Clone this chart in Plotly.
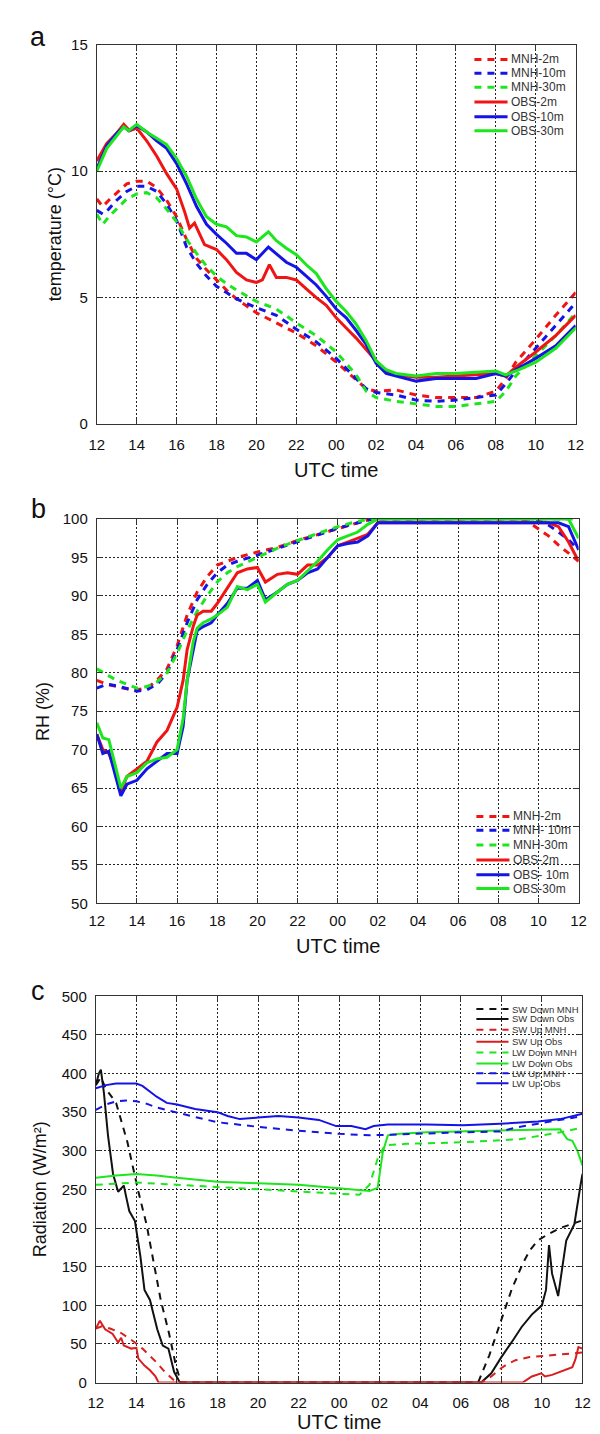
import plotly.graph_objects as go

W, H = 600, 1434

# ---------------- shared x axis (hours after 12 UTC) ----------------
X_TICK_VALS = [0, 2, 4, 6, 8, 10, 12, 14, 16, 18, 20, 22, 24]
X_TICK_LABELS = ["12", "14", "16", "18", "20", "22", "00", "02", "04", "06", "08", "10", "12"]

# ---------------- panel a : temperature (deg C) ----------------
TA_OBS2_X = [0, 0.5, 1, 1.35, 1.65, 2, 2.5, 3, 3.5, 4, 4.4, 4.65, 4.9, 5.4, 6, 6.5, 7, 7.5, 8, 8.3,
             8.65, 9, 9.5, 10, 10.5, 11, 11.5, 12, 12.5, 13, 13.5, 14, 14.5, 15, 16, 17, 18, 19, 20, 20.5,
             21, 22, 23, 24]
TA_OBS2 = [10.4, 11.1, 11.5, 11.85, 11.6, 11.7, 11.2, 10.6, 9.9, 9.3, 8.4, 7.75, 7.95, 7.1, 6.9, 6.5, 6.0, 5.7, 5.6, 5.7,
           6.3, 5.8, 5.8, 5.7, 5.35, 5.0, 4.7, 4.2, 3.8, 3.4, 2.95, 2.5, 2.1, 1.95, 1.85, 1.85, 1.9, 1.95, 2.0, 1.9,
           2.25, 2.85, 3.5, 4.3]
TA_OBS_X = [0, 0.5, 1, 1.35, 1.6, 2, 2.5, 3, 3.5, 4, 4.5, 5, 5.5, 6, 6.5, 7, 7.5, 8, 8.6, 9,
            9.5, 10, 10.5, 11, 11.5, 12, 12.5, 13, 13.5, 14, 14.5, 15, 16, 17, 18, 19, 20, 20.5, 21, 22,
            23, 24]
TA_OBS10 = [10.1, 11.0, 11.5, 11.75, 11.6, 11.8, 11.55, 11.2, 10.9, 10.3, 9.5, 8.6, 7.9, 7.5, 7.15, 6.75, 6.75, 6.5, 7.0, 6.75,
            6.4, 6.2, 5.85, 5.5, 5.05, 4.55, 4.2, 3.7, 3.15, 2.4, 2.0, 1.9, 1.7, 1.8, 1.8, 1.8, 2.0, 1.9, 2.15, 2.6,
            3.1, 3.9]
TA_OBS30 = [10.0, 10.9, 11.4, 11.75, 11.6, 11.85, 11.55, 11.3, 11.05, 10.5, 9.8, 8.9, 8.2, 7.9, 7.8, 7.45, 7.4, 7.2, 7.6, 7.25,
            6.95, 6.7, 6.3, 5.95, 5.35, 4.85, 4.45, 3.95, 3.3, 2.5, 2.15, 2.0, 1.9, 2.0, 2.0, 2.05, 2.1, 1.95, 2.1, 2.45,
            3.0, 3.8]
TA_MNH_X = [0, 0.3, 0.6, 1, 1.5, 2, 2.5, 3, 3.5, 4, 4.5, 5, 5.5, 6, 6.5, 7, 8, 9, 10, 11,
            12, 13, 13.5, 14, 15, 16, 17, 18, 19, 20, 20.5, 21, 22, 23, 24]
TA_MNH2 = [8.9, 8.6, 8.85, 9.15, 9.5, 9.6, 9.6, 9.35, 8.85, 8.2, 7.3, 6.55, 6.1, 5.7, 5.3, 4.95, 4.4, 4.0, 3.6, 3.1,
           2.45, 1.75, 1.4, 1.3, 1.35, 1.15, 1.05, 1.05, 1.05, 1.3, 1.8, 2.45, 3.35, 4.3, 5.2]
TA_MNH10 = [8.45, 8.3, 8.5, 8.85, 9.2, 9.4, 9.4, 9.2, 8.7, 8.05, 7.0, 6.35, 5.85, 5.45, 5.2, 4.95, 4.6, 4.3, 3.75, 3.25,
            2.6, 1.8, 1.4, 1.25, 1.15, 0.95, 0.9, 0.95, 1.05, 1.15, 1.6, 2.1, 3.0, 3.9, 4.8]
TA_MNH30 = [8.3, 7.9, 8.2, 8.5, 8.9, 9.1, 9.15, 8.95, 8.5, 8.0, 7.3, 6.75, 6.25, 5.85, 5.55, 5.3, 4.85, 4.55, 4.0, 3.5,
            2.85, 1.95, 1.3, 1.05, 0.9, 0.8, 0.7, 0.7, 0.8, 0.9, 1.3, 1.9, 2.7, 3.5, 4.4]

# ---------------- panel b : relative humidity (%) ----------------
RH_OBS_X = [0, 0.3, 0.6, 0.9, 1.2, 1.5, 2, 2.5, 3, 3.5, 4, 4.3, 4.5, 4.8, 5, 5.3, 5.7, 6, 6.5, 7,
            7.5, 8, 8.4, 9, 9.5, 10, 10.5, 11, 11.5, 12, 12.5, 13, 13.5, 14, 15, 17, 19, 21, 22, 22.5,
            23, 23.5, 24]
RH_OBS2 = [72, 70, 69.5, 67.5, 64.5, 66.5, 67.5, 68.5, 71, 72.5, 75.5, 79, 83, 86, 87.5, 88, 88, 89, 91, 93,
           93.5, 93.7, 91.8, 92.8, 93, 92.8, 94, 94, 95, 96.5, 97, 97.5, 98, 99.5, 99.5, 99.5, 99.5, 99.5, 99.5, 99.5,
           99, 97, 94.5]
RH_OBS10 = [72, 69.5, 69.8, 67, 64, 65.5, 66, 67.5, 68.5, 69.5, 69.5, 73, 79, 83, 85.5, 86, 86.5, 87.5, 89, 91,
            91, 92, 89.5, 90.5, 91.5, 92, 93, 93.5, 95, 96.5, 96.8, 97, 97.8, 99.5, 99.5, 99.5, 99.5, 99.5, 99.5, 99.5,
            99.5, 99, 96]
RH_OBS30 = [73.5, 71.5, 71.3, 68, 65, 66.5, 67, 68.3, 68.8, 69, 70, 74, 79, 84, 85.8, 86.5, 87, 87.5, 88.5, 91.2,
            90.8, 91.5, 89.2, 90.5, 91.5, 92, 93.3, 94.5, 96, 97.3, 97.8, 98.3, 99.3, 100, 100, 100, 100, 100, 100, 100,
            100, 100, 97.5]
RH_MNH_X = [0, 0.5, 1, 1.5, 2, 2.5, 3, 3.5, 4, 4.5, 5, 5.5, 6, 6.5, 7, 8, 9, 10, 11, 12,
            13, 13.7, 14, 16, 18, 20, 21, 21.5, 22, 22.5, 23, 23.5, 24]
RH_MNH2 = [79, 78.5, 78.2, 77.9, 77.8, 78, 79, 80.5, 83.5, 87.5, 90.5, 92.5, 94, 94.5, 95, 95.7, 96.3, 97.2, 98, 98.8,
           99.5, 100, 100, 100, 100, 100, 100, 99.6, 98.7, 97.8, 96.6, 95.5, 94.5]
RH_MNH10 = [78, 78.5, 78.3, 78, 77.6, 77.8, 78.5, 80, 83, 86.5, 89.5, 91.5, 93, 94, 94.5, 95.3, 96.2, 97, 98, 98.8,
            99.5, 100, 100, 100, 100, 100, 100, 100, 99.8, 99.2, 98.3, 97.3, 96]
RH_MNH30 = [80.5, 79.7, 79, 78.5, 78, 78.2, 78.8, 80, 82.5, 85.5, 88, 90, 91.8, 93, 93.8, 95, 96.2, 97.2, 98.1, 99,
            99.7, 100, 100, 100, 100, 100, 100, 100, 100, 100, 100, 100, 100]

# ---------------- panel c : radiation (W/m2) ----------------
SWD_MNH_X = [0, 0.25, 0.5, 1, 1.56, 2.1, 2.5, 2.85, 3.2, 3.6, 3.95, 4.2, 18.85, 19.4, 19.95, 20.5, 21.05, 21.4, 21.8, 22.3,
             22.9, 23.4, 24]
SWD_MNH = [385, 395, 380, 362, 311, 247, 205, 154, 107, 65, 22, 0, 0, 35, 78, 120, 154, 171, 184, 192,
           200, 205, 210]
SWD_OBS_X = [0, 0.15, 0.25, 0.4, 0.6, 0.85, 1.1, 1.38, 1.5, 1.65, 1.93, 2.2, 2.4, 2.67, 3.03, 3.3, 3.58, 3.86, 4.15, 19,
             19.5, 20, 20.5, 21, 21.5, 22, 22.2, 22.35, 22.5, 22.8, 23.2, 23.6, 23.9, 24]
SWD_OBS = [385, 400, 405, 375, 320, 270, 247, 255, 240, 222, 209, 163, 120, 107, 69, 48, 44, 14, 0, 0,
           12, 33, 52, 72, 88, 100, 120, 178, 141, 112, 184, 205, 255, 270]
SWU_MNH_X = [0, 0.3, 0.7, 1.2, 1.6, 1.93, 2.3, 2.67, 3.0, 3.4, 3.86, 4.1, 19.0, 19.5, 19.95, 20.3, 20.7, 21.4, 22.15, 22.9,
             24]
SWU_MNH = [70, 73, 70, 65, 58, 52, 44, 35, 26, 14, 3, 0, 0, 8, 18, 24, 29, 33, 35, 37,
           39]
SWU_OBS_X = [0, 0.2, 0.46, 0.83, 1.1, 1.25, 1.38, 1.75, 2.0, 2.1, 2.4, 2.67, 2.94, 3.1, 21.05, 21.5, 21.97, 22.15, 22.5, 22.9,
             23.25, 23.5, 23.65, 23.8, 24]
SWU_OBS = [70, 80, 69, 63, 52, 58, 48, 44, 45, 31, 22, 16, 8, 0, 0, 8, 12, 8, 10, 14,
           18, 20, 30, 46, 44]
LWD_MNH_X = [0, 2, 4, 6, 8, 10, 12, 13, 13.5, 13.9, 14.25, 15.3, 18.1, 20.9, 22.9, 24]
LWD_MNH = [256, 259, 256, 253, 250, 247, 244, 243, 256, 290, 307, 309, 311, 315, 324, 330]
LWD_OBS_X = [0, 1, 2, 3, 4, 6, 8, 10, 11.85, 13.5, 13.9, 14.15, 14.4, 15, 16.3, 18, 19.9, 22.15, 22.9, 23.25,
             23.5, 23.75, 24]
LWD_OBS = [265, 268, 270, 268, 265, 260, 258, 256, 252, 248, 252, 298, 320, 322, 324, 325, 326, 328, 328, 315,
           313, 300, 281]
LWU_MNH_X = [0, 0.5, 1, 1.5, 2, 2.5, 3, 4, 5, 6, 8, 10, 12, 13.5, 15.35, 18.1, 19.95, 20.7, 21.8, 23,
             24]
LWU_MNH = [353, 360, 364, 365, 364, 361, 356, 349, 343, 337, 331, 326, 322, 320, 322, 324, 325, 330, 335, 340,
           345]
LWU_OBS_X = [0, 0.5, 1, 2, 2.3, 2.6, 3, 3.5, 4, 4.9, 5.5, 6, 6.5, 7.1, 8, 9, 10, 11, 11.85, 12.6,
             13.3, 13.7, 14.4, 16.3, 18.1, 19.95, 21.8, 22.9, 24]
LWU_OBS = [381, 385, 387, 387, 384, 378, 370, 362, 360, 354, 352, 350, 345, 341, 343, 345, 343, 340, 332, 332,
           328, 332, 334, 334, 333, 335, 338, 341, 348]

# ---------------- styles ----------------
RED, BLUE, GREEN, BLACK, DRED = "#f01414", "#1414e6", "#1ee61e", "#111111", "#d81e1e"
DASH = "7px,6px"
FONT = "Liberation Sans"

fig = go.Figure()

def add(x, y, name, color, dash, width, ax):
    fig.add_trace(go.Scatter(x=x, y=y, mode="lines", name=name, showlegend=False,
                             line=dict(color=color, width=width, dash=dash),
                             xaxis="x" + ax, yaxis="y" + ax))

# series definitions (name, x, y, colour, dash)
PANEL_A = [("MNH-2m", TA_MNH_X, TA_MNH2, RED, DASH), ("MNH-10m", TA_MNH_X, TA_MNH10, BLUE, DASH),
           ("MNH-30m", TA_MNH_X, TA_MNH30, GREEN, DASH), ("OBS-2m", TA_OBS2_X, TA_OBS2, RED, "solid"),
           ("OBS-10m", TA_OBS_X, TA_OBS10, BLUE, "solid"), ("OBS-30m", TA_OBS_X, TA_OBS30, GREEN, "solid")]
PANEL_B = [("MNH-2m", RH_MNH_X, RH_MNH2, RED, DASH), ("MNH- 10m", RH_MNH_X, RH_MNH10, BLUE, DASH),
           ("MNH-30m", RH_MNH_X, RH_MNH30, GREEN, DASH), ("OBS-2m", RH_OBS_X, RH_OBS2, RED, "solid"),
           ("OBS- 10m", RH_OBS_X, RH_OBS10, BLUE, "solid"), ("OBS-30m", RH_OBS_X, RH_OBS30, GREEN, "solid")]
PANEL_C = [("SW Down MNH", SWD_MNH_X, SWD_MNH, BLACK, DASH), ("SW Down Obs", SWD_OBS_X, SWD_OBS, BLACK, "solid"),
           ("SW Up MNH", SWU_MNH_X, SWU_MNH, DRED, DASH), ("SW Up Obs", SWU_OBS_X, SWU_OBS, DRED, "solid"),
           ("LW Down MNH", LWD_MNH_X, LWD_MNH, GREEN, DASH), ("LW Down Obs", LWD_OBS_X, LWD_OBS, GREEN, "solid"),
           ("LW Up MNH", LWU_MNH_X, LWU_MNH, BLUE, DASH), ("LW Up Obs", LWU_OBS_X, LWU_OBS, BLUE, "solid")]

for name, x, y, c, d in PANEL_A:
    add(x, y, name, c, d, 3, "")
for name, x, y, c, d in PANEL_B:
    add(x, y, name, c, d, 3, "2")
for name, x, y, c, d in PANEL_C:
    add(x, y, name, c, d, 2, "3")

def dom_x(l, r):
    return [l / W, r / W]

def dom_y(t, b):
    return [1 - b / H, 1 - t / H]

common = dict(showline=True, linecolor="#333", linewidth=1, mirror="ticks", ticks="inside", ticklen=5,
              tickcolor="#333", showgrid=True, gridcolor="#222", griddash="2px,2px", gridwidth=1, zeroline=False,
              tickfont=dict(family=FONT, size=15, color="#111"))

def xax(dom, anchor, standoff):
    return dict(common, domain=dom, anchor=anchor, range=[0, 24], tickmode="array",
                tickvals=X_TICK_VALS, ticktext=X_TICK_LABELS, ticklabelstandoff=standoff)

def yax(dom, anchor, rng, dtick):
    return dict(common, domain=dom, anchor=anchor, range=rng, tickmode="linear", tick0=rng[0], dtick=dtick,
                ticklabelstandoff=5)

fig.update_layout(
    width=W, height=H, margin=dict(l=0, r=0, t=0, b=0),
    paper_bgcolor="white", plot_bgcolor="white", showlegend=False,
    xaxis=xax(dom_x(83, 575), "y", 7), yaxis=yax(dom_y(28, 412), "x", [0, 15], 5),
    xaxis2=xax(dom_x(83, 578), "y2", 4), yaxis2=yax(dom_y(508, 897), "x2", [50, 100], 5),
    xaxis3=xax(dom_x(82, 582), "y3", 6), yaxis3=yax(dom_y(991, 1382), "x3", [0, 500], 50),
)

def ann(text, x, y, size, angle=0, xanchor="center", color="#111"):
    fig.add_annotation(text=text, x=x / W, y=1 - y / H, xref="paper", yref="paper", showarrow=False,
                       xanchor=xanchor, yanchor="middle", textangle=angle,
                       font=dict(family=FONT, size=size, color=color))

# panel letters
ann("a", 23, 20, 27)
ann("b", 23, 498, 27)
ann("c", 23, 986, 27)
# axis titles
ann("UTC time", 329, 458, 20)
ann("UTC time", 331, 940, 20)
ann("UTC time", 332, 1422, 20)
ann("temperature (\u00b0C)", 40, 220, 18, angle=-90)
ann("RH (%)", 27, 703, 18, angle=-90)
ann("Radiation (W/m\u00b2)", 25, 1186, 18, angle=-90)

# legends (keys drawn as in the original figure)
def legend(entries, x0, x1, ys, size, width):
    for (name, _x, _y, c, d), y in zip(entries, ys):
        fig.add_shape(type="line", xref="paper", yref="paper", x0=x0 / W, x1=x1 / W,
                      y0=1 - y / H, y1=1 - y / H, line=dict(color=c, width=width, dash=d))
        ann(name, x1 + 2, y, size, xanchor="left", color="#333")

legend(PANEL_A, 471, 505, [43, 57, 71, 86, 101, 115], 12, 3)
legend(PANEL_B, 473, 507, [809, 823, 838, 853, 868, 882], 12, 3)
legend(PANEL_C, 473, 506, [1004, 1014, 1025, 1037, 1048, 1059, 1069, 1079], 9.5, 2)

fig.write_html("out.html")
